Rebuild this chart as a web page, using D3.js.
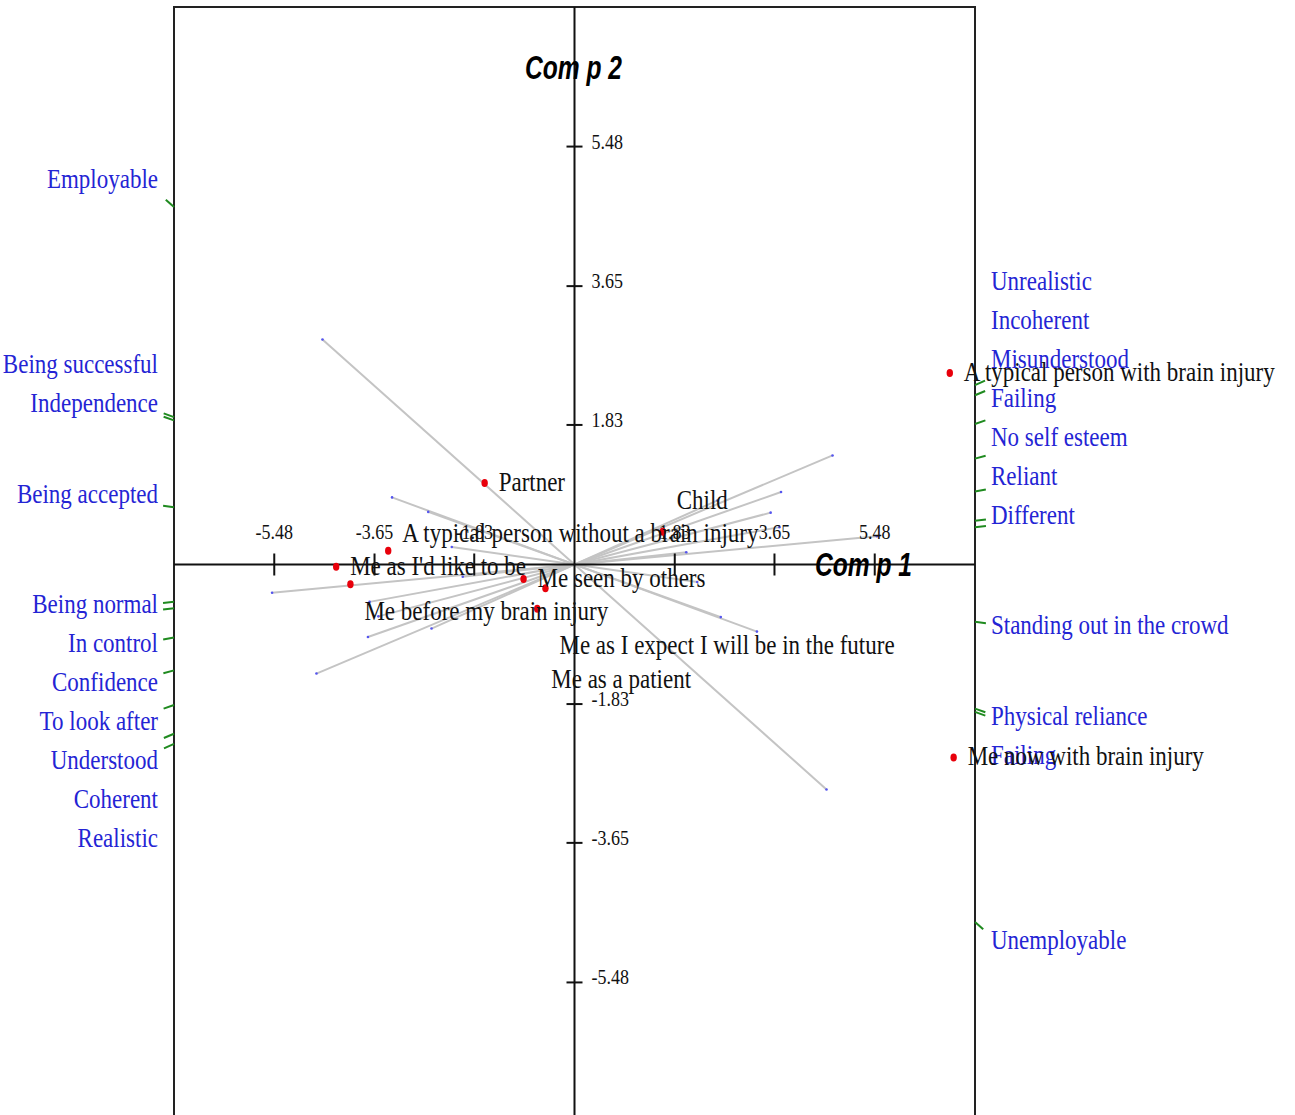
<!DOCTYPE html>
<html>
<head>
<meta charset="utf-8">
<script src="https://cdn.jsdelivr.net/npm/d3@7"></script>
<style>
  html, body { margin: 0; padding: 0; background: #fff; }
  svg { display: block; }
</style>
</head>
<body>
<svg id="biplot" width="1295" height="1115"></svg>
<script>
// construct poles: right pole (positive loading) and left pole (negative loading)
const rightPoles = ['Unemployable', 'Different', 'Incoherent', 'Misunderstood', 'Failing', 'No self esteem',
  'Unrealistic', 'Failing', 'Physical reliance', 'Standing out in the crowd', 'Reliant'];
const leftPoles = ['Employable', 'Being normal', 'Coherent', 'Understood', 'To look after', 'Confidence',
  'Realistic', 'Being successful', 'Independence', 'Being accepted', 'In control'];
// construct loadings on comp 1 / comp 2 (right pole end)
const loadComp1 = [4.60, 5.52, 4.71, 3.77, 3.58, 3.74, 2.61, 3.33, 2.67, 2.24, 2.04];
const loadComp2 = [-2.95, 0.37, 1.43, 0.95, 0.68, 0.49, 0.84, -0.88, -0.69, -0.23, 0.16];

// elements
const elements = ['A typical person with brain injury', 'Partner', 'Child', 'A typical person without a brain injury',
  'Me as I\'d like to be', 'Me before my brain injury', 'Me seen by others',
  'Me as I expect I will be in the future', 'Me as a patient', 'Me now with brain injury'];
const elemComp1 = [6.85, -1.64, 1.61, -3.40, -4.35, -4.09, -0.93, -0.53, -0.68, 6.92];
const elemComp2 = [2.51, 1.07, 0.43, 0.18, -0.03, -0.26, -0.19, -0.31, -0.58, -2.53];
// vertical label nudges (px) used by the original plot to keep element names apart
const elemLabelNudge = [0, 0, -31, -17, 0, 28, 0, 58, 71, 0];

const tickValues = [-5.48, -3.65, -1.83, 1.83, 3.65, 5.48];

const svg = d3.select('#biplot');

const x = d3.scaleLinear().domain([-7.31, 7.31]).range([174, 975]);
const y = d3.scaleLinear().domain([-7.31, 7.31]).range([1122, 7]);
const cx = x(0), cy = y(0);
const xL = x.range()[0], xR = x.range()[1];

const serif = '"Liberation Serif", "Times New Roman", serif';
const stretch = 1.2; // the original text is drawn taller than normal

// frame
svg.append('rect')
  .attr('x', xL).attr('y', y.range()[1])
  .attr('width', xR - xL).attr('height', y.range()[0] - y.range()[1])
  .attr('fill', 'none').attr('stroke', '#222').attr('stroke-width', 2);

// construct vectors
const constructs = loadComp1.map((v, i) => ({ i, c1: v, c2: loadComp2[i] }));

svg.append('g').selectAll('line')
  .data(constructs)
  .join('line')
  .attr('x1', d => x(-d.c1)).attr('y1', d => y(-d.c2))
  .attr('x2', d => x(d.c1)).attr('y2', d => y(d.c2))
  .attr('stroke', '#c4c4c4').attr('stroke-width', 2);

const ends = [];
constructs.forEach(d => { ends.push([d.c1, d.c2]); ends.push([-d.c1, -d.c2]); });
svg.append('g').selectAll('circle')
  .data(ends)
  .join('circle')
  .attr('cx', d => x(d[0])).attr('cy', d => y(d[1]))
  .attr('r', 1.3).attr('fill', '#5555ee');

// axes
svg.append('line').attr('x1', xL).attr('x2', xR).attr('y1', cy).attr('y2', cy)
  .attr('stroke', '#111').attr('stroke-width', 2);
svg.append('line').attr('x1', cx).attr('x2', cx).attr('y1', y.range()[1]).attr('y2', y.range()[0])
  .attr('stroke', '#111').attr('stroke-width', 2);

svg.append('g').selectAll('line')
  .data(tickValues)
  .join('line')
  .attr('x1', d => x(d)).attr('x2', d => x(d))
  .attr('y1', cy - 11).attr('y2', cy + 11)
  .attr('stroke', '#111').attr('stroke-width', 2);
svg.append('g').selectAll('text')
  .data(tickValues)
  .join('text')
  .attr('transform', d => `translate(${x(d)},${cy - 26}) scale(1,${stretch})`)
  .attr('text-anchor', 'middle')
  .style('font-family', serif).style('font-size', '18px').attr('fill', '#111')
  .text(d => d.toFixed(2));

svg.append('g').selectAll('line')
  .data(tickValues)
  .join('line')
  .attr('x1', cx - 8).attr('x2', cx + 8)
  .attr('y1', d => y(d)).attr('y2', d => y(d))
  .attr('stroke', '#111').attr('stroke-width', 2);
svg.append('g').selectAll('text')
  .data(tickValues)
  .join('text')
  .attr('transform', d => `translate(${cx + 17},${y(d) + 2}) scale(1,${stretch})`)
  .style('font-family', serif).style('font-size', '18px').attr('fill', '#111')
  .text(d => d.toFixed(2));

// axis titles
const titles = [
  { label: 'Com p 2', tx: 525, ty: 79 },
  { label: 'Com p 1', tx: 815, ty: 576 }
];
svg.append('g').selectAll('text')
  .data(titles)
  .join('text')
  .attr('transform', d => `translate(${d.tx},${d.ty}) scale(1,1.12)`)
  .attr('textLength', 97).attr('lengthAdjust', 'spacingAndGlyphs')
  .style('font-family', '"Liberation Sans", Arial, sans-serif')
  .style('font-size', '30px').style('font-weight', 'bold').style('font-style', 'italic')
  .text(d => d.label);

// pole markers on the frame: where each construct ray meets the frame edge
const poles = [];
constructs.forEach(d => {
  const vx = x(d.c1) - cx, vy = y(d.c2) - cy;
  const len = Math.hypot(vx, vy);
  const slope = vy / vx;
  poles.push({ side: 'right', name: rightPoles[d.i], ux: vx / len, uy: vy / len,
    ex: xR, ty: cy + slope * (xR - cx), ry: cy + slope * (xR + 20 - cx) });
  poles.push({ side: 'left', name: leftPoles[d.i], ux: -vx / len, uy: -vy / len,
    ex: xL, ty: cy - slope * (cx - xL), ry: cy - slope * (cx - xL + 20) });
});

svg.append('g').selectAll('line')
  .data(poles)
  .join('line')
  .attr('x1', d => d.ex).attr('y1', d => d.ty)
  .attr('x2', d => d.ex + d.ux * 11).attr('y2', d => d.ty + d.uy * 11)
  .attr('stroke', '#1f8a1f').attr('stroke-width', 2);

// spread pole labels away from the horizontal axis so they do not overlap
const gap = 39;
['left', 'right'].forEach(side => {
  const list = poles.filter(p => p.side === side);
  let last = Infinity;
  list.filter(p => p.ty < cy).sort((a, b) => b.ty - a.ty).forEach(p => {
    p.ly = Math.min(p.ry - 9, last - gap);
    last = p.ly;
  });
  last = -Infinity;
  list.filter(p => p.ty >= cy).sort((a, b) => a.ty - b.ty).forEach(p => {
    p.ly = Math.max(p.ry + 1, last + gap);
    last = p.ly;
  });
});

svg.append('g').selectAll('text')
  .data(poles)
  .join('text')
  .attr('transform', d => `translate(${d.side === 'right' ? xR + 16 : xL - 16},${d.ly + 8}) scale(1,${stretch})`)
  .attr('text-anchor', d => d.side === 'right' ? 'start' : 'end')
  .style('font-family', serif).style('font-size', '23px')
  .attr('fill', '#2424d4')
  .text(d => d.name);

// elements
const elemData = elements.map((name, i) => ({ name, c1: elemComp1[i], c2: elemComp2[i], nudge: elemLabelNudge[i] }));

svg.append('g').selectAll('ellipse')
  .data(elemData)
  .join('ellipse')
  .attr('cx', d => x(d.c1)).attr('cy', d => y(d.c2))
  .attr('rx', 3.2).attr('ry', 4)
  .attr('fill', '#e8000b');

svg.append('g').selectAll('text')
  .data(elemData)
  .join('text')
  .attr('transform', d => `translate(${x(d.c1) + 14},${y(d.c2) + d.nudge + 8}) scale(1,${stretch})`)
  .style('font-family', serif).style('font-size', '23px')
  .attr('fill', '#111')
  .text(d => d.name);
</script>
</body>
</html>
